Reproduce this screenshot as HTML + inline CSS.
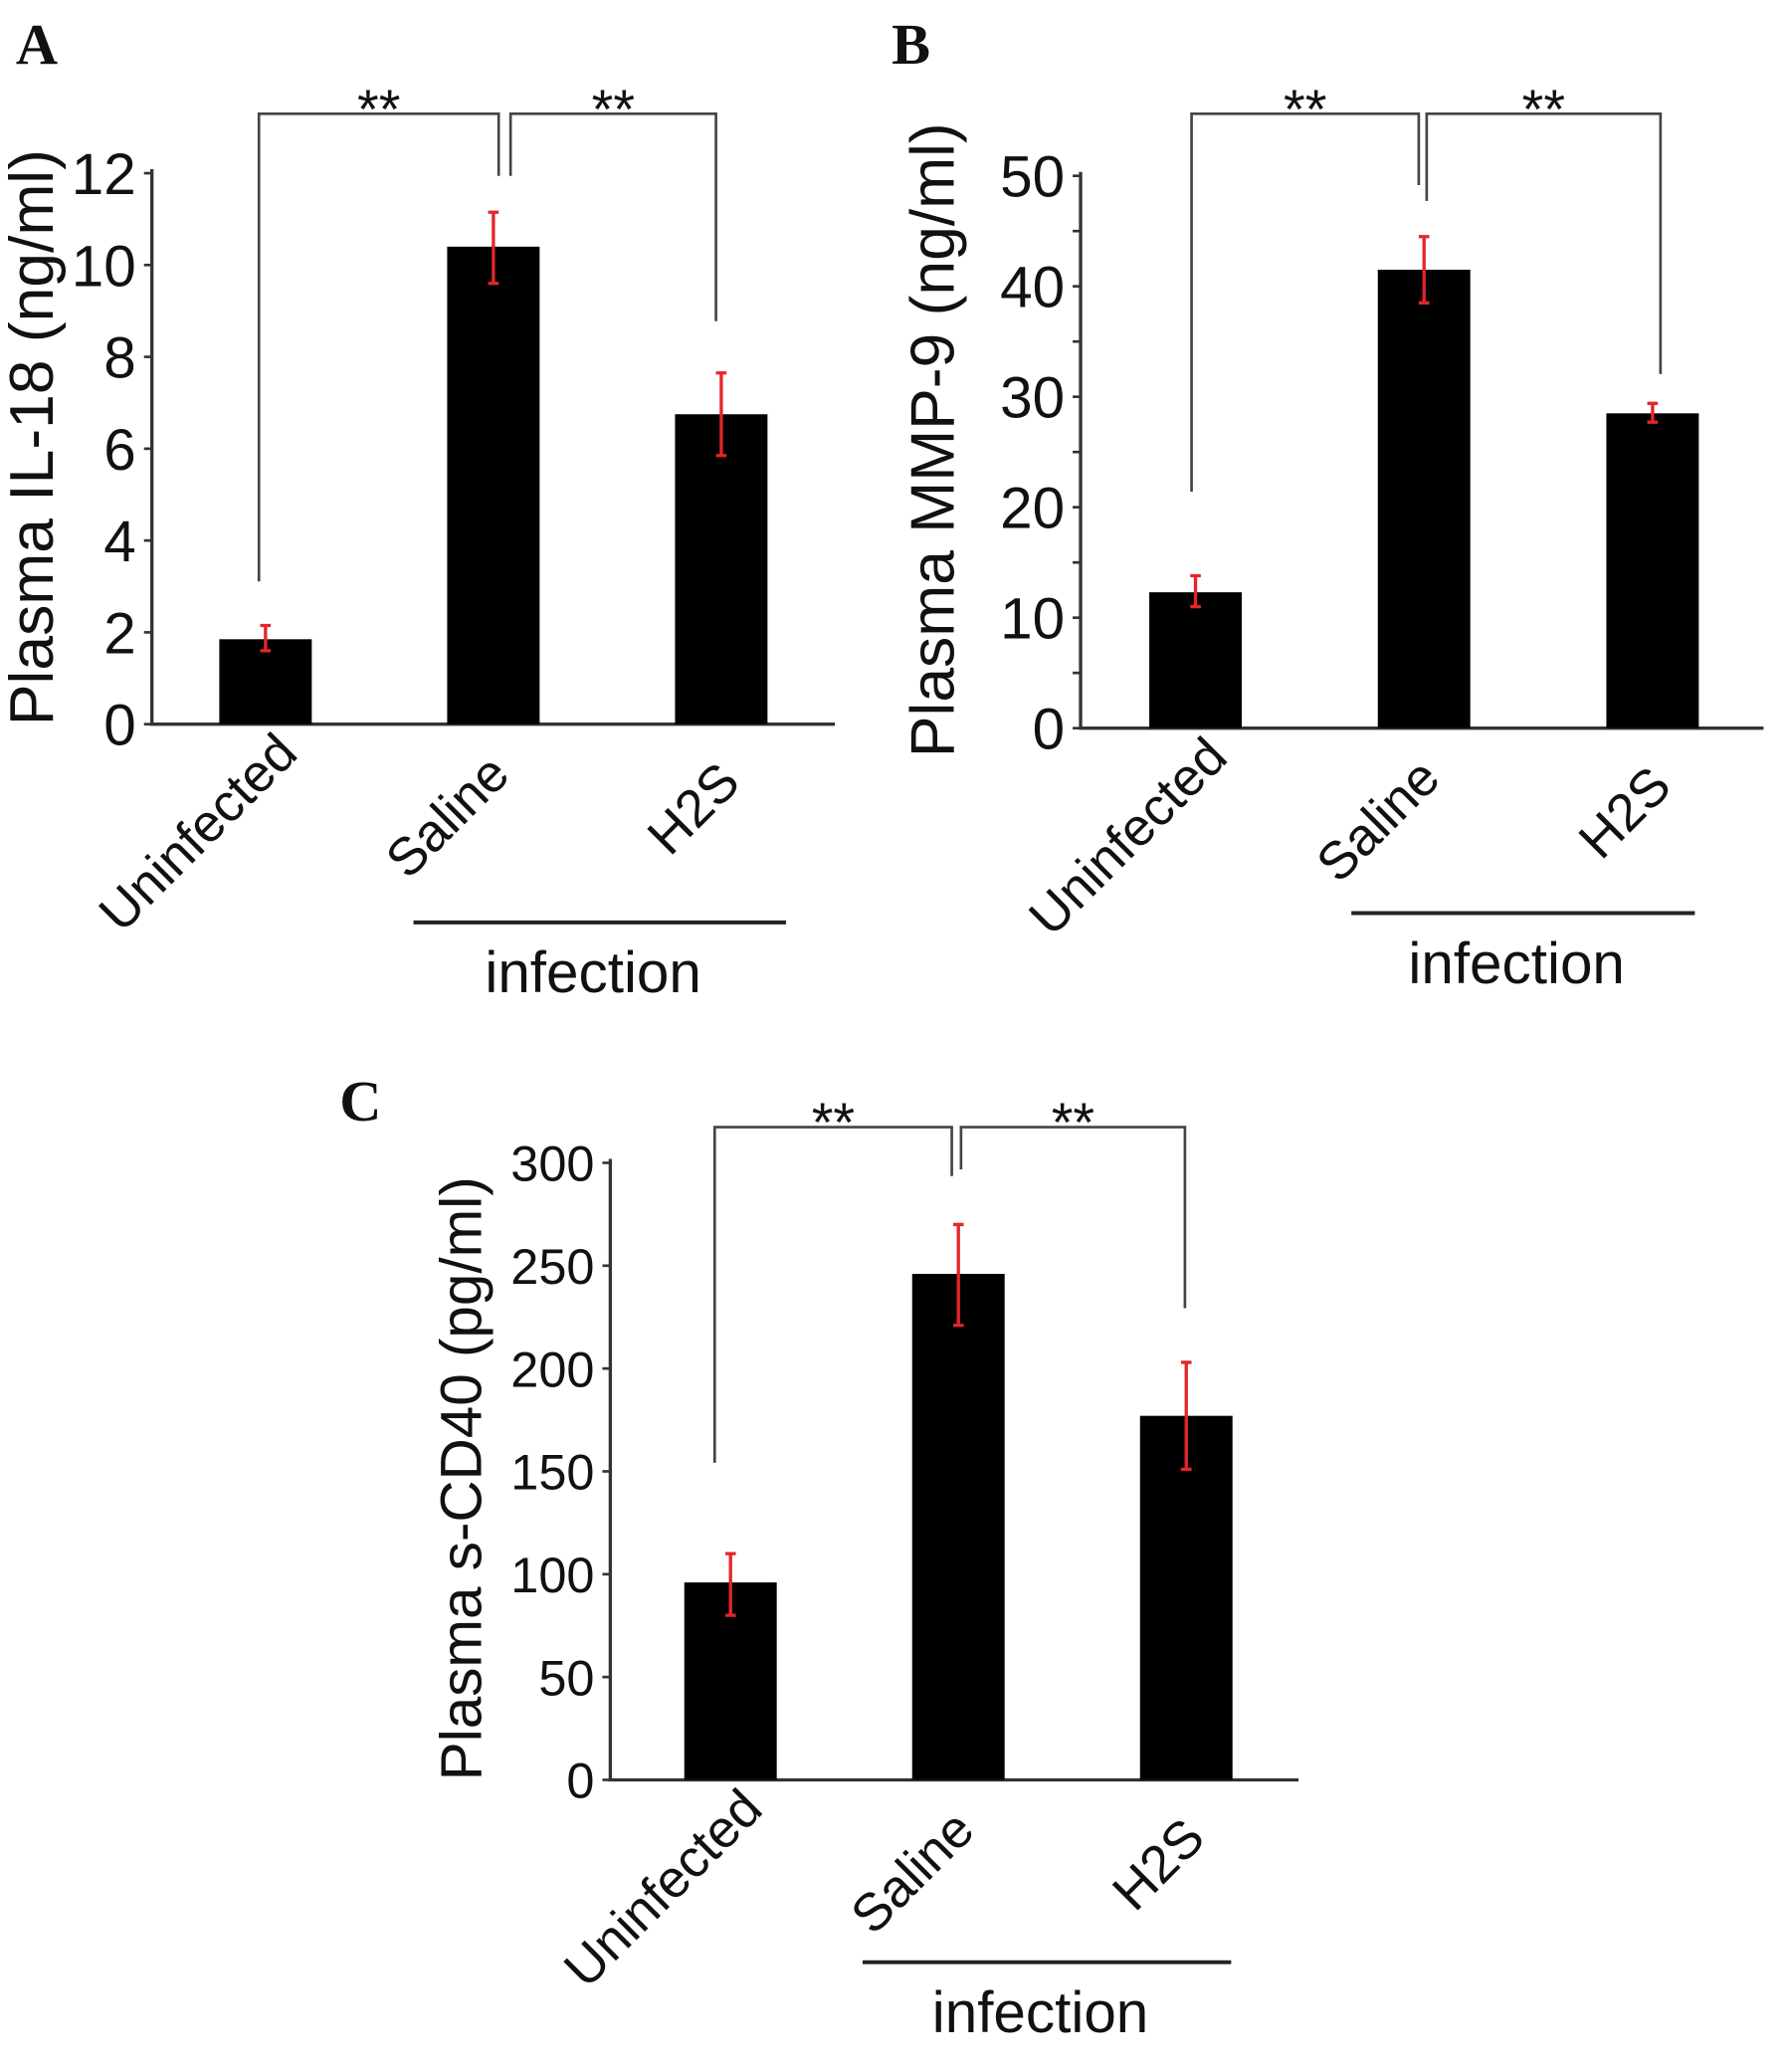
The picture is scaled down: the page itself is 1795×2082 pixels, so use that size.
<!DOCTYPE html>
<html><head><meta charset="utf-8"><style>
html,body{margin:0;padding:0;background:#fff;}
svg{display:block;}
text{font-family:"Liberation Sans",Arial,sans-serif;fill:#111;}
</style></head><body>
<svg id="fig" width="1795" height="2082" viewBox="0 0 1352 1568" xmlns="http://www.w3.org/2000/svg">
<text x="12" y="48" font-weight="bold" font-size="44" style="font-family:'Liberation Serif',serif">A</text>
<text x="675" y="48" font-weight="bold" font-size="44" style="font-family:'Liberation Serif',serif">B</text>
<text x="257" y="848" font-weight="bold" font-size="44" style="font-family:'Liberation Serif',serif">C</text>
</svg>
<script>
const categories = ["Uninfected","Saline","H2S"];
const il18Values = [1.85, 10.4, 6.75];
const il18ErrLow = [1.6, 9.6, 5.85];
const il18ErrHigh = [2.15, 11.15, 7.65];
const il18Ticks = [0,2,4,6,8,10,12];
const mmp9Values = [12.3, 41.5, 28.5];
const mmp9ErrLow = [11, 38.5, 27.7];
const mmp9ErrHigh = [13.8, 44.5, 29.4];
const mmp9Ticks = [0,10,20,30,40,50];
const cd40Values = [96, 246, 177];
const cd40ErrLow = [80, 221, 151];
const cd40ErrHigh = [110, 270, 203];
const cd40Ticks = [0,50,100,150,200,250,300];

const svg = document.getElementById('fig');
const NS = 'http://www.w3.org/2000/svg';
function mk(tag, attrs, parent){
  const e = document.createElementNS(NS, tag);
  for (const k in attrs) e.setAttribute(k, attrs[k]);
  (parent||svg).appendChild(e);
  return e;
}
function panel(p){
  const g = mk('g', {});
  
  
  const ymax = p.ticks[p.ticks.length-1];
  const y = v => p.base - (v/ymax)*(p.base-p.top);
  const ax = mk('path', {d:`M${p.ax},${p.top-3} V${p.base} H${p.xend}`, stroke:'#333', 'stroke-width':2.5, fill:'none'}, g);
  
  
  const step = p.ticks[1]-p.ticks[0];
  const sub = p.minor ? step/2 : step;
  for (let v=0; v<=ymax+1e-9; v+=sub){
    const t = mk('line', {x1:p.ax-6, x2:p.ax, y1:y(v), y2:y(v), stroke:'#333', 'stroke-width':2}, g);
    
    
  }
  p.ticks.forEach(v=>{
    const t = mk('text', {x:p.ax-12, y:y(v)+p.fs*0.36, 'text-anchor':'end', 'font-size':p.fs}, g);
    t.textContent = v;
    
    
  });
  const yl = mk('text', {x:0, y:0, 'text-anchor':'middle', 'font-size':p.lfs, transform:`translate(${p.lx},${p.ly}) rotate(-90)`}, g);
  yl.textContent = p.ylabel;
  
  
  const cdx = [26,14,16], cdy = [24,40,46];
  const cx = [];
  categories.forEach((c,i)=>{
    const x0 = p.bx[0] + i*p.gap;
    const xc = x0 + 35;
    cx.push(xc);
    const b = mk('rect', {x:x0, y:y(p.vals[i]), width:70, height:p.base-y(p.vals[i]), fill:'#000'}, g);
    
    
    const e = mk('path', {d:`M${xc},${y(p.lo[i])} V${y(p.hi[i])} M${xc-4},${y(p.lo[i])} H${xc+4} M${xc-4},${y(p.hi[i])} H${xc+4}`, stroke:'#e3262a', 'stroke-width':2.5, fill:'none'}, g);
    
    
    const t = mk('text', {x:0, y:0, 'text-anchor':'end', 'font-size':p.cfs, transform:`translate(${xc+cdx[i]},${p.base+cdy[i]}) rotate(-45)`}, g);
    t.textContent = c;
    
    
  });
  const s = p.sig;
  const br = mk('path', {d:`M${cx[0]+s.o0},${s.y0} V${s.by} H${cx[1]+s.lo} V${s.y1} M${cx[1]+s.ro},${s.y2} V${s.by} H${cx[2]+s.o2} V${s.y3}`, stroke:'#444', 'stroke-width':2, fill:'none'}, g);
  
  
  [[ (cx[0]+s.o0+cx[1]+s.lo)/2 ],[ (cx[1]+s.ro+cx[2]+s.o2)/2 ]].forEach(a=>{
    const t = mk('text', {x:a[0], y:s.by+11, 'text-anchor':'middle', 'font-size':42}, g);
    t.textContent = '**';
    
    
  });
  const il = mk('line', {x1:p.inf[0], x2:p.inf[1], y1:p.inf[2], y2:p.inf[2], stroke:'#222', 'stroke-width':3}, g);
  
  
  const it = mk('text', {x:(p.inf[0]+p.inf[1])/2 - 5, y:p.inf[2]+53, 'text-anchor':'middle', 'font-size':44}, g);
  it.textContent = 'infection';
  
  
}
panel({name:'chart-il18', ticks:il18Ticks, vals:il18Values, lo:il18ErrLow, hi:il18ErrHigh,
  ax:115, top:131, base:548, xend:632, bx:[166], gap:172.5, fs:44, lfs:47, lx:40, ly:331,
  ylabel:'Plasma IL-18 (ng/ml)', cfs:40, minor:false,
  sig:{by:86, o0:-5, y0:440, lo:4, y1:133, ro:13, y2:133, o2:-4, y3:243},
  inf:[313,595,698]});
panel({name:'chart-mmp9', ticks:mmp9Ticks, vals:mmp9Values, lo:mmp9ErrLow, hi:mmp9ErrHigh,
  ax:818, top:133, base:551, xend:1335, bx:[870], gap:173, fs:44, lfs:47, lx:722, ly:333,
  ylabel:'Plasma MMP-9 (ng/ml)', cfs:40, minor:true,
  sig:{by:86, o0:-3, y0:372, lo:-4, y1:140, ro:2, y2:152, o2:6, y3:283},
  inf:[1023,1283,691]});
panel({name:'chart-scd40', ticks:cd40Ticks, vals:cd40Values, lo:cd40ErrLow, hi:cd40ErrHigh,
  ax:462, top:880, base:1347, xend:983, bx:[518], gap:172.5, fs:38, lfs:44, lx:364, ly:1119,
  ylabel:'Plasma s-CD40 (pg/ml)', cfs:40, minor:false,
  sig:{by:853, o0:-12, y0:1107, lo:-5, y1:890, ro:2, y2:885, o2:-1, y3:990},
  inf:[653,932,1485]});
</script>
</body></html>
